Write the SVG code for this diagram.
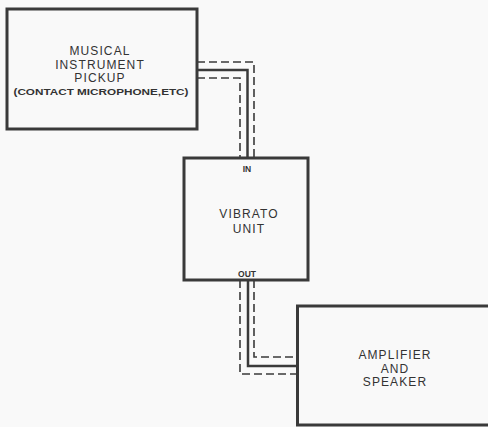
<svg xmlns="http://www.w3.org/2000/svg" width="488" height="427" viewBox="0 0 488 427">
<style>
.box{fill:none;stroke:#3a3a3a;stroke-width:3}
.solid{fill:none;stroke:#3a3a3a;stroke-width:2.5}
.dash{fill:none;stroke:#3a3a3a;stroke-width:1.6;stroke-dasharray:8 4}
.t{font-family:"Liberation Sans",Arial,sans-serif;font-size:12px;fill:#333;text-anchor:middle;letter-spacing:1.1px}
.s{font-family:"Liberation Sans",Arial,sans-serif;font-size:8.5px;font-weight:bold;fill:#333;text-anchor:middle}
</style>
<rect width="488" height="427" fill="#f9f9f9"/>
<g id="connectors">
<path class="dash" d="M197 62 H254 V158"/>
<path class="solid" d="M197 70 H247.5 V158"/>
<path class="dash" d="M197 78 H240 V158"/>
<path class="dash" d="M254 280 V357 H297"/>
<path class="solid" d="M248 280 V366 H297"/>
<path class="dash" d="M240 280 V374 H297"/>
</g>
<g id="pickup">
<rect class="box" x="7" y="9" width="190" height="120"/>
<text class="t" x="100" y="55">MUSICAL</text>
<text class="t" x="100" y="68.5">INSTRUMENT</text>
<text class="t" x="100" y="82">PICKUP</text>
<text class="s" x="101" y="95" textLength="175" lengthAdjust="spacingAndGlyphs">(CONTACT MICROPHONE,ETC)</text>
</g>
<g id="vibrato">
<rect class="box" x="184" y="158" width="124" height="122"/>
<text class="s" x="247" y="172">IN</text>
<text class="t" x="249" y="218">VIBRATO</text>
<text class="t" x="249" y="233">UNIT</text>
<text class="s" x="247" y="277">OUT</text>
</g>
<g id="amplifier">
<rect class="box" x="297.5" y="306" width="195" height="119"/>
<text class="t" x="395" y="359">AMPLIFIER</text>
<text class="t" x="395" y="372.5">AND</text>
<text class="t" x="395" y="386">SPEAKER</text>
</g>
</svg>
